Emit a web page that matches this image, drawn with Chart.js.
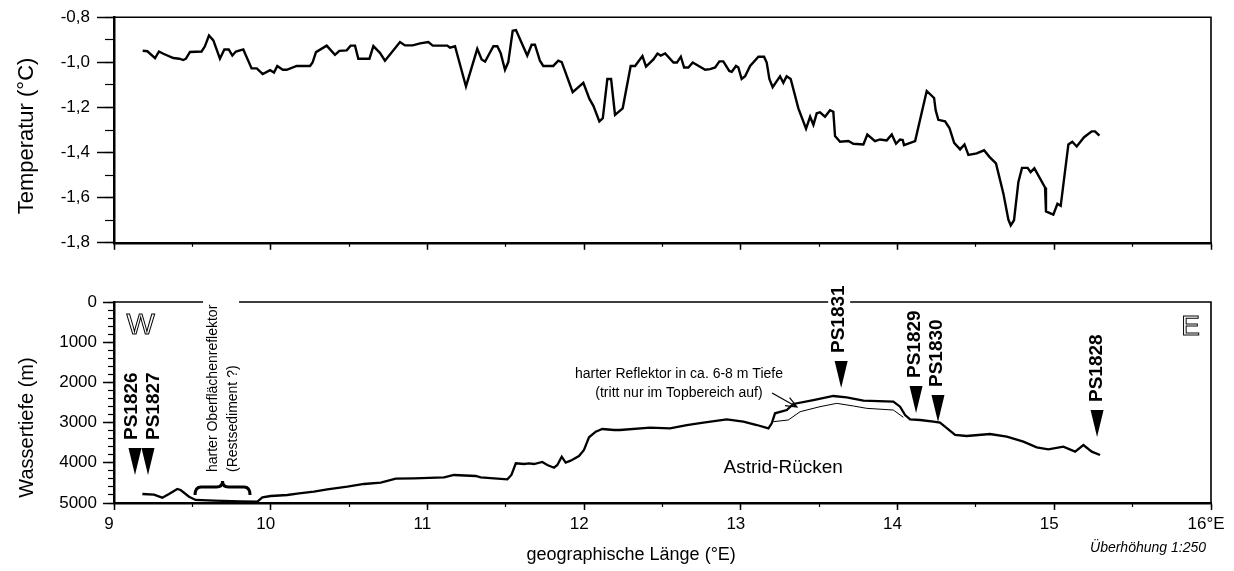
<!DOCTYPE html>
<html lang="de">
<head>
<meta charset="utf-8">
<title>Temperatur und Wassertiefe über den Astrid-Rücken</title>
<script src="https://cdn.jsdelivr.net/npm/chart.js@4.4.1/dist/chart.umd.min.js"></script>
<style>
  html, body { margin: 0; padding: 0; background: #fff; }
  #wrap { position: relative; width: 1234px; height: 571px; overflow: hidden; }
  #tempBox { position: absolute; left: 0; top: 0; width: 1234px; height: 260px; }
  #depthBox { position: absolute; left: 0; top: 260px; width: 1234px; height: 311px; }
  canvas { display: block; }
</style>
</head>
<body>
<div id="wrap">
  <div id="tempBox"><canvas id="tempChart" width="1234" height="260"></canvas></div>
  <div id="depthBox"><canvas id="depthChart" width="1234" height="311"></canvas></div>
</div>
<script>
// ---- Temperaturprofil (geographische Länge in °E, Temperatur in °C) ----
const tempLon = [
  9.183, 9.213, 9.262, 9.287, 9.315, 9.379, 9.417, 9.442, 9.459, 9.485,
  9.559, 9.580, 9.606, 9.634, 9.676, 9.704, 9.732, 9.755, 9.778, 9.825,
  9.878, 9.911, 9.949, 9.996, 10.021, 10.042, 10.077, 10.102, 10.166, 10.251,
  10.267, 10.289, 10.357, 10.410, 10.438, 10.485, 10.510, 10.538, 10.559, 10.630,
  10.655, 10.697, 10.729, 10.825, 10.857, 10.906, 10.953, 11.006, 11.034, 11.127,
  11.144, 11.176, 11.246, 11.318, 11.346, 11.368, 11.421, 11.446, 11.467, 11.495,
  11.516, 11.544, 11.565, 11.637, 11.665, 11.686, 11.718, 11.739, 11.803, 11.835,
  11.857, 11.927, 11.995, 12.033, 12.059, 12.097, 12.119, 12.148, 12.172, 12.197,
  12.246, 12.297, 12.325, 12.372, 12.395, 12.442, 12.468, 12.489, 12.517, 12.570,
  12.592, 12.617, 12.638, 12.665, 12.693, 12.772, 12.804, 12.836, 12.863, 12.888,
  12.926, 12.942, 12.969, 12.984, 13.005, 13.027, 13.059, 13.112, 13.148, 13.165,
  13.182, 13.203, 13.250, 13.271, 13.292, 13.318, 13.367, 13.416, 13.442, 13.463,
  13.484, 13.505, 13.537, 13.569, 13.590, 13.601, 13.633, 13.686, 13.718, 13.782,
  13.807, 13.856, 13.888, 13.931, 13.963, 13.990, 14.016, 14.033, 14.041, 14.112,
  14.186, 14.233, 14.243, 14.260, 14.303, 14.331, 14.361, 14.399, 14.427, 14.452,
  14.505, 14.552, 14.586, 14.628, 14.675, 14.707, 14.722, 14.743, 14.771, 14.794,
  14.830, 14.849, 14.873, 14.941, 14.947, 14.994, 15.020, 15.041, 15.090, 15.115,
  15.143, 15.190, 15.239, 15.260, 15.288
];
const tempVal = [
  -0.949, -0.951, -0.981, -0.952, -0.962, -0.981, -0.984, -0.990, -0.984, -0.954,
  -0.952, -0.929, -0.881, -0.903, -0.984, -0.943, -0.943, -0.970, -0.952, -0.943,
  -1.027, -1.027, -1.052, -1.035, -1.045, -1.016, -1.033, -1.033, -1.016, -1.016,
  -1.001, -0.955, -0.926, -0.967, -0.949, -0.947, -0.926, -0.926, -0.984, -0.984,
  -0.928, -0.958, -0.993, -0.910, -0.925, -0.925, -0.916, -0.910, -0.926, -0.926,
  -0.935, -0.929, -1.107, -0.940, -0.987, -0.997, -0.929, -0.929, -0.958, -1.033,
  -0.999, -0.860, -0.857, -0.970, -0.922, -0.922, -0.993, -1.016, -1.016, -0.993,
  -0.999, -1.132, -1.091, -1.161, -1.193, -1.262, -1.248, -1.074, -1.074, -1.233,
  -1.204, -1.016, -1.016, -0.972, -1.019, -0.987, -0.961, -0.970, -0.961, -1.001,
  -1.001, -0.975, -1.023, -1.023, -1.001, -1.033, -1.030, -1.023, -0.996, -0.996,
  -1.038, -1.042, -1.016, -1.023, -1.074, -1.062, -1.016, -0.975, -0.975, -1.001,
  -1.074, -1.110, -1.062, -1.091, -1.062, -1.074, -1.204, -1.294, -1.241, -1.277,
  -1.226, -1.222, -1.241, -1.212, -1.219, -1.327, -1.352, -1.349, -1.361, -1.364,
  -1.320, -1.349, -1.342, -1.346, -1.320, -1.361, -1.342, -1.344, -1.367, -1.349,
  -1.127, -1.158, -1.212, -1.255, -1.262, -1.291, -1.357, -1.386, -1.364, -1.410,
  -1.404, -1.390, -1.419, -1.448, -1.581, -1.697, -1.723, -1.700, -1.530, -1.468,
  -1.468, -1.487, -1.470, -1.555, -1.661, -1.675, -1.627, -1.636, -1.364, -1.352,
  -1.373, -1.332, -1.306, -1.306, -1.325
];

// ---- Meeresboden (geographische Länge in °E, Wassertiefe in m) ----
const depthLon = [
  9.181, 9.255, 9.308, 9.351, 9.404, 9.425, 9.479, 9.521, 9.638, 9.809,
  9.915, 9.947, 10.000, 10.106, 10.181, 10.276, 10.361, 10.489, 10.595, 10.702,
  10.798, 10.914, 11.106, 11.170, 11.308, 11.340, 11.425, 11.510, 11.536, 11.564,
  11.617, 11.648, 11.680, 11.733, 11.765, 11.808, 11.829, 11.857, 11.882, 11.914,
  11.967, 11.999, 12.031, 12.074, 12.116, 12.191, 12.229, 12.421, 12.548, 12.655,
  12.761, 12.910, 13.016, 13.102, 13.176, 13.197, 13.218, 13.293, 13.335, 13.463,
  13.590, 13.675, 13.782, 13.973, 14.016, 14.048, 14.080, 14.144, 14.229, 14.271,
  14.324, 14.367, 14.441, 14.590, 14.697, 14.803, 14.888, 14.962, 15.058, 15.133,
  15.186, 15.239, 15.292
];
const depthVal = [
  4776, 4793, 4868, 4776, 4652, 4677, 4843, 4925, 4942, 4958,
  4967, 4858, 4826, 4801, 4759, 4718, 4660, 4594, 4527, 4494,
  4395, 4386, 4361, 4303, 4328, 4361, 4386, 4411, 4303, 4013,
  4030, 4013, 4030, 3980, 4055, 4122, 4055, 3848, 3997, 3947,
  3831, 3682, 3366, 3226, 3159, 3184, 3184, 3126, 3143, 3060,
  3002, 2918, 2977, 3060, 3143, 3018, 2769, 2687, 2537, 2438,
  2338, 2371, 2455, 2479, 2604, 2811, 2918, 2935, 2977, 3002,
  3168, 3308, 3333, 3284, 3350, 3475, 3615, 3665, 3599, 3723,
  3557, 3723, 3806
];

// ---- Harter Reflektor unter dem Top des Rückens ----
const reflLon = [13.207, 13.303, 13.378, 13.505, 13.612, 13.718, 13.803, 13.973, 14.037];
const reflVal = [2977, 2935, 2729, 2604, 2521, 2587, 2645, 2687, 2868];

// ---- Stationen (Pfeilspitze bei Länge / Tiefe) ----
const stationNames = ['PS1826', 'PS1827', 'PS1831', 'PS1829', 'PS1830', 'PS1828'];
const stationLon   = [9.134, 9.217, 13.640, 14.118, 14.258, 15.273];
const stationDepth = [4303, 4303, 2139, 2761, 2985, 3358];

// ---- Achsenbeschriftung ----
const lonTicks    = [9, 10, 11, 12, 13, 14, 15, 16];
const lonLabels   = ['9', '10', '11', '12', '13', '14', '15', '16°E'];
const tempTicks   = [-1.8, -1.6, -1.4, -1.2, -1.0, -0.8];
const depthTicks  = [0, 1000, 2000, 3000, 4000, 5000];

// ---- Textanmerkungen im Profil (Ankerpunkte in Länge / Tiefe) ----
const notes = {
  west:  { text: 'W', lon: 9.17, depth: 600 },
  east:  { text: 'E', lon: 15.87, depth: 620 },
  ridge: { text: 'Astrid-Rücken', lon: 13.27, depth: 4130 },
  reflector: {
    lines: ['harter Reflektor in ca. 6-8 m Tiefe', '(tritt nur im Topbereich auf)'],
    lon: 12.605, depth: [1790, 2264],
    arrowFrom: [13.199, 2264], arrowTo: [13.358, 2612]
  },
  surface: {
    lines: ['harter Oberflächenreflektor', '(Restsediment ?)'],
    lon: [9.632, 9.759], depth: 4229
  },
  brace: { lon: [9.517, 9.868], depth: [4801, 4602, 4453] },
  xTitle: { text: 'geographische Länge (°E)', lon: 12.3 },
  exaggeration: 'Überhöhung 1:250'
};
// horizontal nudge of each station name against its arrow (px)
const stationLabelShift = [-3, 6, -2, -1, -1, 0];

const FONT = '"Liberation Sans", Arial, Helvetica, sans-serif';
Chart.defaults.font.family = FONT;
Chart.defaults.color = '#000';

// top and right edges of the plot box
const framePlugin = {
  id: 'frame',
  beforeDatasetsDraw(chart) {
    const { ctx, chartArea: a } = chart;
    ctx.save();
    ctx.strokeStyle = '#000';
    ctx.lineWidth = 1.6;
    ctx.beginPath();
    ctx.moveTo(a.left, a.top);
    ctx.lineTo(a.right, a.top);
    ctx.lineTo(a.right, a.bottom);
    ctx.stroke();
    ctx.restore();
  }
};

// rotated title beside the value axis
const yTitlePlugin = {
  id: 'yTitle',
  afterDraw(chart, args, o) {
    const { ctx, chartArea: a } = chart;
    ctx.save();
    ctx.translate(o.x, (a.top + a.bottom) / 2 + o.dy);
    ctx.rotate(-Math.PI / 2);
    ctx.font = o.size + 'px ' + FONT;
    ctx.textAlign = 'center';
    ctx.textBaseline = 'middle';
    ctx.fillStyle = '#000';
    ctx.fillText(o.text, 0, 0);
    ctx.restore();
  }
};

function lonAxis(showLabels, height) {
  return {
    type: 'linear', position: 'bottom', weight: 1, min: 9, max: 16,
    afterBuildTicks: s => { s.ticks = lonTicks.map(v => ({ value: v })); },
    ticks: {
      display: showLabels, autoSkip: false, maxRotation: 0,
      font: { size: 17 }, padding: 4, labelOffset: -5,
      callback: (v, i) => lonLabels[i]
    },
    grid: { drawOnChartArea: false, drawTicks: true, tickLength: 7, tickColor: '#000', tickWidth: 1.5 },
    border: { display: true, color: '#000', width: 2.5 },
    afterFit: s => { s.height = height; }
  };
}
function minorAxis(pos, min, max, step, len, reverse) {
  return {
    type: 'linear', position: pos, weight: 0, min, max, reverse: !!reverse,
    ticks: { display: false, stepSize: step, autoSkip: false },
    grid: { drawOnChartArea: false, drawTicks: true, tickLength: len, tickColor: '#000', tickWidth: 1.2 },
    border: { display: false },
    afterFit: s => { if (pos === 'left') s.width = 0; else s.height = 0; }
  };
}

// ---------- Temperatur ----------
new Chart(document.getElementById('tempChart'), {
  type: 'line',
  data: {
    datasets: [{
      data: tempLon.map((x, i) => ({ x, y: tempVal[i] })),
      borderColor: '#000', borderWidth: 2.4, pointRadius: 0, tension: 0, fill: false,
      xAxisID: 'x', yAxisID: 'y'
    }]
  },
  options: {
    responsive: false, animation: false, events: [],
    layout: { padding: { top: 17, right: 23, left: 0, bottom: 0 } },
    plugins: {
      legend: { display: false }, tooltip: { enabled: false },
      yTitle: { text: 'Temperatur (°C)', size: 22, x: 27, dy: 6 }
    },
    scales: {
      x: lonAxis(false, 13),
      xMinor: minorAxis('bottom', 9, 16, 0.5, 4),
      y: {
        type: 'linear', position: 'left', weight: 1, min: -1.8, max: -0.8,
        afterBuildTicks: s => { s.ticks = tempTicks.map(v => ({ value: v })); },
        ticks: {
          autoSkip: false, font: { size: 17 }, padding: 7,
          callback: v => v.toFixed(1).replace('.', ',')
        },
        grid: { drawOnChartArea: false, drawTicks: true, tickLength: 17, tickColor: '#000', tickWidth: 1.5 },
        border: { display: true, color: '#000', width: 2.5 },
        afterFit: s => { s.width = 114; }
      },
      yMinor: minorAxis('left', -1.8, -0.8, 0.1, 9)
    }
  },
  plugins: [framePlugin, yTitlePlugin]
});

// ---------- Profil: Beschriftungen, Stationen, Klammer ----------
function drawVertical(ctx, items, pass) {
  items.forEach(it => {
    ctx.save();
    ctx.translate(it.x, it.y);
    ctx.rotate(-Math.PI / 2);
    ctx.font = it.font;
    ctx.textAlign = 'left';
    ctx.textBaseline = 'middle';
    if (pass === 'blank') {
      if (it.blank) {
        const w = ctx.measureText(it.text).width;
        ctx.fillStyle = '#fff';
        ctx.fillRect(-2, -it.size / 2 - it.blank, w + it.blank + 2,
                     it.size + 2 * it.blank + (it.extra || 0));
      }
    } else {
      ctx.fillStyle = '#000';
      ctx.fillText(it.text, 0, 0);
    }
    ctx.restore();
  });
}

const profilePlugin = {
  id: 'profileNotes',
  afterDatasetsDraw(chart) {
    const { ctx, chartArea: a } = chart;
    const xs = chart.scales.x, ys = chart.scales.y;
    const px = v => xs.getPixelForValue(v);
    const py = v => ys.getPixelForValue(v);
    const vertical = [];

    // station triangles; names that reach the upper frame get a white gap
    ctx.save();
    ctx.fillStyle = '#000';
    ctx.font = 'bold 19px ' + FONT;
    stationNames.forEach((name, i) => {
      const x = px(stationLon[i]);
      const tip = py(stationDepth[i]);
      ctx.beginPath();
      ctx.moveTo(x - 6.5, tip - 27);
      ctx.lineTo(x + 6.5, tip - 27);
      ctx.lineTo(x, tip);
      ctx.closePath();
      ctx.fill();
      const start = tip - 35;
      const reachesFrame = start - ctx.measureText(name).width < a.top + 12;
      vertical.push({ text: name, x: x + stationLabelShift[i], y: start,
                      font: 'bold 19px ' + FONT, size: 14, blank: reachesFrame ? 4 : 0 });
    });
    ctx.restore();

    // surface reflector note (two rotated lines)
    const s = notes.surface;
    s.lines.forEach((t, i) => {
      vertical.push({ text: t, x: px(s.lon[i]), y: py(s.depth), font: '14px ' + FONT,
                      size: 12, blank: i === 0 ? 4 : 0, extra: i === 0 ? 16 : 0 });
    });

    drawVertical(ctx, vertical, 'blank');
    drawVertical(ctx, vertical, 'text');

    ctx.save();
    ctx.strokeStyle = '#000';
    ctx.fillStyle = '#000';

    // curly brace over the reflector stretch
    const b = notes.brace;
    const x1 = px(b.lon[0]), x2 = px(b.lon[1]), xc = (x1 + x2) / 2;
    const yb = py(b.depth[0]), ym = py(b.depth[1]), yt = py(b.depth[2]);
    const q = 6;
    ctx.lineWidth = 3;
    ctx.beginPath();
    ctx.moveTo(x1, yb);
    ctx.quadraticCurveTo(x1, ym, x1 + q, ym);
    ctx.lineTo(xc - q, ym);
    ctx.quadraticCurveTo(xc, ym, xc, yt);
    ctx.quadraticCurveTo(xc, ym, xc + q, ym);
    ctx.lineTo(x2 - q, ym);
    ctx.quadraticCurveTo(x2, ym, x2, yb);
    ctx.stroke();

    // outlined direction letters
    ctx.lineWidth = 1;
    ctx.textAlign = 'center';
    ctx.textBaseline = 'middle';
    ctx.font = '30px ' + FONT;
    ctx.strokeText(notes.west.text, px(notes.west.lon), py(notes.west.depth));
    ctx.font = '28px "Liberation Sans Narrow", ' + FONT;
    ctx.strokeText(notes.east.text, px(notes.east.lon), py(notes.east.depth));

    // ridge name
    ctx.font = '19px ' + FONT;
    ctx.fillText(notes.ridge.text, px(notes.ridge.lon), py(notes.ridge.depth));

    // reflector note with arrow
    const r = notes.reflector;
    ctx.font = '14px ' + FONT;
    r.lines.forEach((t, i) => ctx.fillText(t, px(r.lon), py(r.depth[i])));
    const ax = px(r.arrowFrom[0]), ay = py(r.arrowFrom[1]);
    const bx = px(r.arrowTo[0]), by = py(r.arrowTo[1]);
    const ang = Math.atan2(by - ay, bx - ax);
    ctx.lineWidth = 1.2;
    ctx.beginPath();
    ctx.moveTo(ax, ay);
    ctx.lineTo(bx, by);
    ctx.moveTo(bx - 12 * Math.cos(ang - 0.4), by - 12 * Math.sin(ang - 0.4));
    ctx.lineTo(bx, by);
    ctx.lineTo(bx - 12 * Math.cos(ang + 0.4), by - 12 * Math.sin(ang + 0.4));
    ctx.stroke();

    // axis title and vertical exaggeration
    ctx.font = '18px ' + FONT;
    ctx.textBaseline = 'middle';
    ctx.fillText(notes.xTitle.text, px(notes.xTitle.lon), chart.height - 16);
    ctx.font = 'italic 14px ' + FONT;
    ctx.textAlign = 'right';
    ctx.fillText(notes.exaggeration, a.right - 5, chart.height - 23);
    ctx.restore();
  }
};

// ---------- Wassertiefe ----------
new Chart(document.getElementById('depthChart'), {
  type: 'line',
  data: {
    datasets: [
      {
        data: depthLon.map((x, i) => ({ x, y: depthVal[i] })),
        borderColor: '#000', borderWidth: 2.3, pointRadius: 0, tension: 0, fill: false,
        xAxisID: 'x', yAxisID: 'y'
      },
      {
        data: reflLon.map((x, i) => ({ x, y: reflVal[i] })),
        borderColor: '#000', borderWidth: 1, pointRadius: 0, tension: 0, fill: false,
        xAxisID: 'x', yAxisID: 'y'
      }
    ]
  },
  options: {
    responsive: false, animation: false, events: [],
    layout: { padding: { top: 42, right: 23, left: 0, bottom: 0 } },
    plugins: {
      legend: { display: false }, tooltip: { enabled: false },
      yTitle: { text: 'Wassertiefe (m)', size: 20, x: 27, dy: 25 }
    },
    scales: {
      x: lonAxis(true, 68),
      xMinor: minorAxis('bottom', 9, 16, 0.5, 4),
      y: {
        type: 'linear', position: 'left', weight: 1, min: 0, max: 5000, reverse: true,
        afterBuildTicks: s => { s.ticks = depthTicks.map(v => ({ value: v })); },
        ticks: { autoSkip: false, font: { size: 17 }, padding: 6, callback: v => String(v) },
        grid: { drawOnChartArea: false, drawTicks: true, tickLength: 11, tickColor: '#000', tickWidth: 1.5 },
        border: { display: true, color: '#000', width: 2.5 },
        afterFit: s => { s.width = 114; }
      },
      yMinor: minorAxis('left', 0, 5000, 200, 6, true)
    }
  },
  plugins: [framePlugin, profilePlugin, yTitlePlugin]
});
</script>
</body>
</html>
